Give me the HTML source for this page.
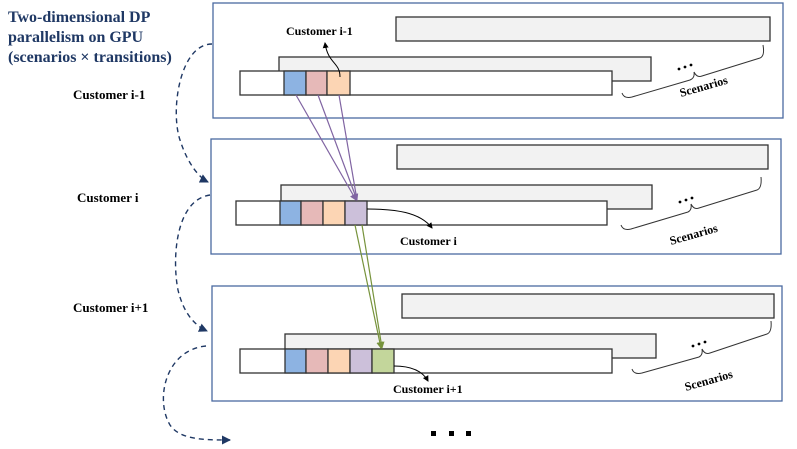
<!DOCTYPE html>
<html><head><meta charset="utf-8"><style>
body{margin:0;background:#fff}
svg{display:block}
text{font-family:"Liberation Serif",serif;font-weight:bold}
</style></head><body>
<svg width="797" height="449" viewBox="0 0 797 449" xmlns="http://www.w3.org/2000/svg">
<defs>
<marker id="ab" markerWidth="9" markerHeight="9" refX="8" refY="4.5" orient="auto" markerUnits="userSpaceOnUse"><path d="M0,0 L9,4.5 L0,9 Z" fill="#1f3864"/></marker>
<marker id="ak" markerWidth="6" markerHeight="6" refX="5" refY="3" orient="auto" markerUnits="userSpaceOnUse"><path d="M0,0 L6,3 L0,6 Z" fill="#000"/></marker>
<marker id="ap" markerWidth="7" markerHeight="7" refX="6" refY="3.5" orient="auto" markerUnits="userSpaceOnUse"><path d="M0,0 L7,3.5 L0,7 Z" fill="#8064a2"/></marker>
<marker id="ag" markerWidth="7" markerHeight="7" refX="6" refY="3.5" orient="auto" markerUnits="userSpaceOnUse"><path d="M0,0 L7,3.5 L0,7 Z" fill="#77933c"/></marker>
</defs>
<g fill="none" stroke="#4a6aa0" stroke-width="1.3">
<rect x="213" y="3" width="570" height="115"/>
<rect x="211" y="139" width="570" height="115"/>
<rect x="212" y="286" width="570" height="115"/>
</g>
<g stroke="#333" stroke-width="1.3">
<rect x="396" y="17" width="374" height="24" fill="#f2f2f2"/>
<rect x="279" y="57" width="372" height="24" fill="#f2f2f2"/>
<rect x="240" y="71" width="372" height="24" fill="#fff"/>
<rect x="284" y="71" width="22" height="24" fill="#8db3e2"/>
<rect x="306" y="71" width="21" height="24" fill="#e6b9b8"/>
<rect x="327" y="71" width="23" height="24" fill="#fcd5b4"/>
<rect x="397" y="145" width="371" height="24" fill="#f2f2f2"/>
<rect x="281" y="185" width="371" height="24" fill="#f2f2f2"/>
<rect x="236" y="201" width="371" height="24" fill="#fff"/>
<rect x="280" y="201" width="21" height="24" fill="#8db3e2"/>
<rect x="301" y="201" width="22" height="24" fill="#e6b9b8"/>
<rect x="323" y="201" width="22" height="24" fill="#fcd5b4"/>
<rect x="345" y="201" width="22" height="24" fill="#ccc0da"/>
<rect x="402" y="294" width="372" height="24" fill="#f2f2f2"/>
<rect x="285" y="334" width="371" height="24" fill="#f2f2f2"/>
<rect x="240" y="349" width="372" height="24" fill="#fff"/>
<rect x="285" y="349" width="21" height="24" fill="#8db3e2"/>
<rect x="306" y="349" width="22" height="24" fill="#e6b9b8"/>
<rect x="328" y="349" width="22" height="24" fill="#fcd5b4"/>
<rect x="350" y="349" width="22" height="24" fill="#ccc0da"/>
<rect x="372" y="349" width="22" height="24" fill="#c3d69b"/>
</g>
<g stroke="#8064a2" stroke-width="1.2" fill="none">
<line x1="296" y1="95" x2="356" y2="200" marker-end="url(#ap)"/>
<line x1="318" y1="95" x2="357" y2="200" marker-end="url(#ap)"/>
<line x1="339" y1="95" x2="357" y2="200"/>
</g>
<g stroke="#77933c" stroke-width="1.2" fill="none">
<line x1="355" y1="225" x2="381" y2="348" marker-end="url(#ag)"/>
<line x1="362" y1="225" x2="382" y2="348" marker-end="url(#ag)"/>
</g>
<g stroke="#000" stroke-width="1" fill="none">
<path d="M340,77 C340,62 328,64 325,43" marker-end="url(#ak)"/>
<path d="M367,209 C395,209 420,212 432,228" marker-end="url(#ak)"/>
<path d="M394,366 C410,366 422,370 428,381" marker-end="url(#ak)"/>
</g>
<g stroke="#333" stroke-width="1" fill="none">
<path d="M622,93 Q624,99 632,97 L690,80 Q695,78 694,72 Q697,78 702,76 L760,58 Q765,56 763,45"/>
<path d="M621,225 Q623,231 631,229 L688,212 Q692,210 691,204 Q694,210 699,208 L757,190 Q762,188 761,177"/>
<path d="M632,369 Q634,375 642,373 L699,357 Q703,355 702,349 Q705,355 710,353 L767,334 Q772,332 771,321"/>
</g>
<g fill="#000">
<circle cx="679" cy="69" r="1.4"/><circle cx="685" cy="67" r="1.4"/><circle cx="691" cy="65" r="1.4"/>
<circle cx="680" cy="202" r="1.4"/><circle cx="686" cy="200" r="1.4"/><circle cx="692" cy="198" r="1.4"/>
<circle cx="693" cy="346" r="1.4"/><circle cx="699" cy="344" r="1.4"/><circle cx="705" cy="342" r="1.4"/>
<rect x="431" y="431" width="5" height="5"/><rect x="449" y="431" width="5" height="5"/><rect x="466" y="431" width="5" height="5"/>
</g>
<g font-size="12" fill="#000">
<text x="681" y="97" transform="rotate(-16 681 97)">Scenarios</text>
<text x="671" y="245" transform="rotate(-16 671 245)">Scenarios</text>
<text x="686" y="391" transform="rotate(-16 686 391)">Scenarios</text>
</g>
<g font-size="12" fill="#000">
<text x="286" y="35">Customer i-1</text>
<text x="400" y="245">Customer i</text>
<text x="393" y="393">Customer i+1</text>
<text x="73" y="99" font-size="13">Customer i-1</text>
<text x="77" y="202" font-size="13">Customer i</text>
<text x="73" y="312" font-size="13">Customer i+1</text>
</g>
<g font-size="16" fill="#1f3864">
<text x="8" y="22">Two-dimensional DP</text>
<text x="8" y="42">parallelism on GPU</text>
<text x="8" y="62">(scenarios × transitions)</text>
</g>
<g stroke="#1f3864" stroke-width="1.4" fill="none" stroke-dasharray="5,4">
<path d="M212,44 C180,44 170,110 180,140 C188,165 200,178 208,182" marker-end="url(#ab)"/>
<path d="M210,195 C175,200 172,260 178,290 C184,315 196,326 207,331" marker-end="url(#ab)"/>
<path d="M206,346 C165,350 155,400 170,425 C180,440 205,440 230,440" marker-end="url(#ab)"/>
</g>
</svg>
</body></html>
